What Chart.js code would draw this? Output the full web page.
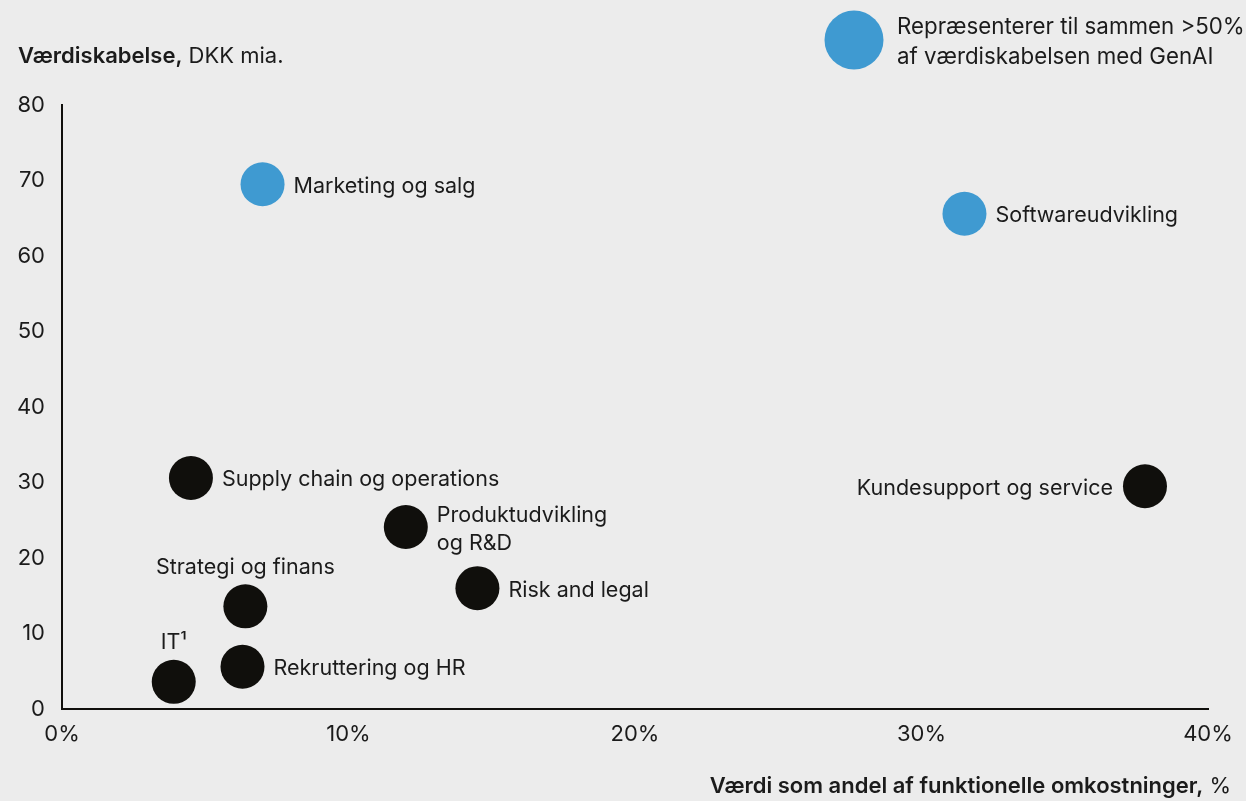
<!DOCTYPE html>
<html>
<head>
<meta charset="utf-8">
<script src="https://cdn.jsdelivr.net/npm/chart.js@4.4.1/dist/chart.umd.min.js"></script>
<style>
  html, body { margin: 0; background: #ececec; }
  canvas { display: block; }
</style>
</head>
<body>
<canvas id="valueChart" width="1246" height="801"></canvas>
<script>
// Business functions and their GenAI value
const functionNames = [
  "Marketing og salg",
  "Softwareudvikling",
  "Supply chain og operations",
  "Produktudvikling\nog R&D",
  "Kundesupport og service",
  "Strategi og finans",
  "Risk and legal",
  "Rekruttering og HR",
  "IT\u00b9",
];
// share of functional costs, %
const valueShare = [7.0, 31.5, 4.5, 12.0, 37.8, 6.4, 14.5, 6.3, 3.9];
// value creation, DKK bn
const valueCreation = [69.5, 65.6, 30.6, 24.1, 29.5, 13.6, 16.0, 5.6, 3.6];
// true = together more than half of the value
const majorShare = [true, true, false, false, false, false, false, false, false];

const xTicks = [0, 10, 20, 30, 40];
const yTicks = [0, 10, 20, 30, 40, 50, 60, 70, 80];

// where each name sits relative to its dot
const labelSide = ["right", "right", "right", "right", "left", "above", "right", "right", "above"];

const BLUE = "#3f9ad1";
const DARK = "#100f0c";
const TEXT = "#1b1b1b";
const FONT = "Inter, 'Liberation Sans', sans-serif";

const ctx = document.getElementById("valueChart");

// names next to the dots
const pointLabels = {
  id: "pointLabels",
  afterDatasetsDraw(chart) {
    const c = chart.ctx;
    const xs = chart.scales.x;
    const ys = chart.scales.y;
    c.save();
    c.fillStyle = TEXT;
    c.font = `21.5px ${FONT}`;
    c.textBaseline = "middle";
    functionNames.forEach((name, i) => {
      const px = xs.getPixelForValue(valueShare[i]);
      const py = ys.getPixelForValue(valueCreation[i]);
      const lines = name.split("\n");
      const lh = 28;
      const side = labelSide[i];
      if (side === "above") {
        c.textAlign = "center";
        c.fillText(name, px, py - 39);
        return;
      }
      c.textAlign = side === "left" ? "right" : "left";
      const tx = side === "left" ? px - 32 : px + 31;
      const top = py + 2 - ((lines.length - 1) * lh) / 2;
      lines.forEach((line, j) => c.fillText(line, tx, top + j * lh));
    });
    c.restore();
  },
};

// headings and the blue-dot key
const chartTexts = {
  id: "chartTexts",
  afterDraw(chart) {
    const c = chart.ctx;
    c.save();
    c.fillStyle = TEXT;
    c.textBaseline = "middle";

    // y heading
    c.textAlign = "left";
    c.font = `600 22px ${FONT}`;
    const bold = "Værdiskabelse,";
    c.fillText(bold, 18, 56);
    const bw = c.measureText(bold).width;
    c.font = `22px ${FONT}`;
    c.fillText(" DKK mia.", 18 + bw, 56);

    // x heading, right aligned
    c.textAlign = "right";
    c.font = `22px ${FONT}`;
    const tail = " %";
    c.fillText(tail, 1231, 786);
    const tw = c.measureText(tail).width;
    c.font = `600 22px ${FONT}`;
    c.fillText("Værdi som andel af funktionelle omkostninger,", 1231 - tw, 786);

    // key
    c.beginPath();
    c.arc(854, 40, 29.5, 0, Math.PI * 2);
    c.fillStyle = BLUE;
    c.fill();
    c.fillStyle = TEXT;
    c.textAlign = "left";
    c.font = `22.3px ${FONT}`;
    c.fillText("Repræsenterer til sammen >50%", 897, 27);
    c.fillText("af værdiskabelsen med GenAI", 897, 57);
    c.restore();
  },
};

const axisTickFont = { family: FONT, size: 22 };

new Chart(ctx, {
  type: "scatter",
  data: {
    datasets: [
      {
        data: valueShare.map((x, i) => ({ x, y: valueCreation[i] })),
        backgroundColor: majorShare.map((m) => (m ? BLUE : DARK)),
        pointRadius: 22,
        pointHoverRadius: 22,
        borderWidth: 0,
        clip: false,
      },
    ],
  },
  options: {
    responsive: false,
    devicePixelRatio: 1,
    animation: false,
    events: [],
    layout: { padding: { top: 105, right: 38, left: 0, bottom: 0 } },
    plugins: { legend: { display: false }, tooltip: { enabled: false } },
    scales: {
      x: {
        type: "linear",
        min: xTicks[0],
        max: xTicks[xTicks.length - 1],
        afterBuildTicks: (s) => { s.ticks = xTicks.map((v) => ({ value: v })); },
        afterFit: (s) => { s.height = 92; },
        grid: { display: false, drawTicks: false },
        border: { display: true, color: DARK, width: 2 },
        ticks: {
          color: TEXT,
          font: axisTickFont,
          padding: 12,
          maxRotation: 0,
          callback: (v) => v + "%",
        },
      },
      y: {
        type: "linear",
        min: yTicks[0],
        max: yTicks[yTicks.length - 1],
        afterBuildTicks: (s) => { s.ticks = yTicks.map((v) => ({ value: v })); },
        afterFit: (s) => { s.width = 62; },
        grid: { display: false, drawTicks: false },
        border: { display: true, color: DARK, width: 2 },
        ticks: { color: TEXT, font: axisTickFont, padding: 17 },
      },
    },
  },
  plugins: [pointLabels, chartTexts],
});
</script>
</body>
</html>
